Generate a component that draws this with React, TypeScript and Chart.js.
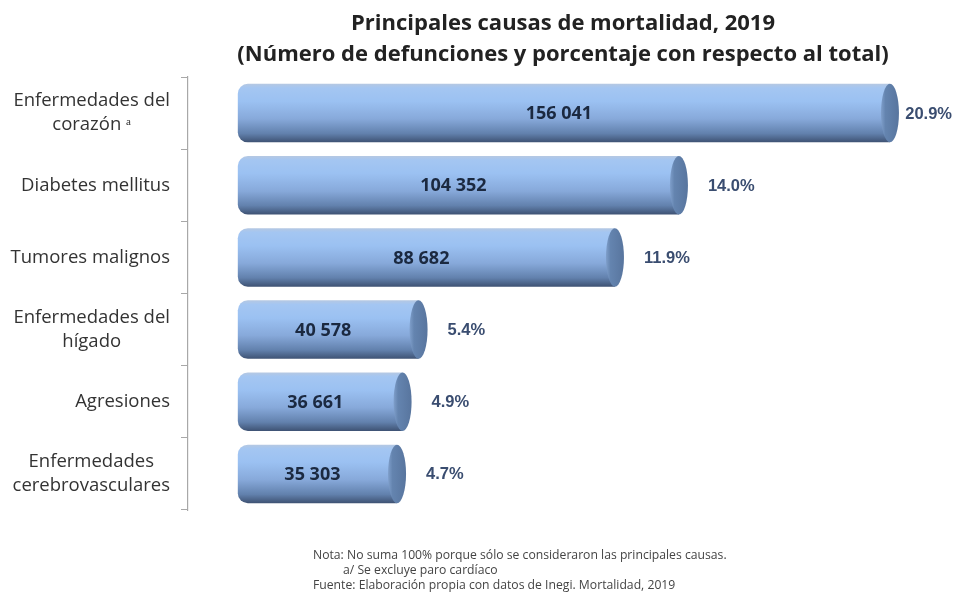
import React, { useEffect, useRef } from "react";
import { Chart, registerables } from "chart.js";

Chart.register(...registerables);

const CATEGORIES: string[][] = [
  ["Enfermedades del", "corazón ᵃ"],
  ["Diabetes mellitus"],
  ["Tumores malignos"],
  ["Enfermedades del", "hígado"],
  ["Agresiones"],
  ["Enfermedades", "cerebrovasculares"],
];
const DEATHS: number[] = [156041, 104352, 88682, 40578, 36661, 35303];
const PERCENTS: number[] = [20.9, 14.0, 11.9, 5.4, 4.9, 4.7];

const TITLE_LINES = [
  "Principales causas de mortalidad, 2019",
  "(Número de defunciones y porcentaje con respecto al total)",
];
const NOTES = [
  "Nota: No suma 100% porque sólo se consideraron las principales causas.",
  "a/ Se excluye paro cardíaco",
  "Fuente: Elaboración propia con datos de Inegi. Mortalidad, 2019",
];

const X_MIN = -15900;
const X_MAX = 158500;
const BAR_BASE = -3700;
const CAP_RX = 9;

const fmt = (v: number) => String(v).replace(/\B(?=(\d{3})+(?!\d))/g, " ");

const cylinderPlugin = {
  id: "cylinder",
  afterDatasetsDraw(chart: any) {
    const ctx = chart.ctx as CanvasRenderingContext2D;
    const meta = chart.getDatasetMeta(0);
    meta.data.forEach((bar: any, i: number) => {
      const { x, y, base, height } = bar.getProps(["x", "y", "base", "height"], true);
      const ry = height / 2;
      ctx.save();
      const g = ctx.createLinearGradient(x - CAP_RX, 0, x + CAP_RX, 0);
      g.addColorStop(0, "#7f9fcb");
      g.addColorStop(0.25, "#6484af");
      g.addColorStop(1, "#58759e");
      ctx.fillStyle = g;
      ctx.beginPath();
      ctx.ellipse(x, y, CAP_RX, ry, 0, 0, Math.PI * 2);
      ctx.fill();
      // value label
      ctx.fillStyle = "#1b2940";
      ctx.font = "bold 18px 'Open Sans'";
      ctx.textAlign = "center";
      ctx.textBaseline = "middle";
      ctx.fillText(fmt(DEATHS[i]), (base + x) / 2 - 5, y + 1);
      // percent label
      ctx.fillStyle = "#3a4d70";
      ctx.font = "bold 16.5px 'Liberation Sans'";
      ctx.textAlign = "left";
      const txt = PERCENTS[i].toFixed(1) + "%";
      const w = ctx.measureText(txt).width;
      let px = x + CAP_RX + 20;
      if (px + w > chart.width - 3) px = chart.width - 3 - w;
      ctx.fillText(txt, px, y + 1);
      ctx.restore();
    });
  },
  afterDraw(chart: any) {
    const ctx = chart.ctx as CanvasRenderingContext2D;
    const yScale = chart.scales.y;
    const right = chart.chartArea.left - 18;
    ctx.save();
    ctx.fillStyle = "#333333";
    ctx.font = "18.5px 'Open Sans'";
    ctx.textAlign = "center";
    ctx.textBaseline = "middle";
    const lh = 24;
    CATEGORIES.forEach((lines, i) => {
      const yc = yScale.getPixelForValue(i);
      const bw = Math.max(...lines.map((l) => ctx.measureText(l).width));
      const cx = right - bw / 2;
      const y0 = yc - ((lines.length - 1) * lh) / 2;
      lines.forEach((l, k) => ctx.fillText(l, cx, y0 + k * lh));
    });
    ctx.restore();
  },
};

export default function App() {
  const ref = useRef<HTMLCanvasElement | null>(null);
  useEffect(() => {
    document.body.style.margin = "0";
    const canvas = ref.current;
    if (!canvas) return;
    const n = CATEGORIES.length;
    const chart = new Chart(canvas, {
      type: "bar",
      data: {
        labels: CATEGORIES.map((l) => l.join(" ")),
        datasets: [
          {
            data: DEATHS,
            base: BAR_BASE,
            barPercentage: 0.81,
            categoryPercentage: 1.0,
            borderSkipped: false,
            borderWidth: 0,
            borderRadius: { topLeft: 10, bottomLeft: 10, topRight: 0, bottomRight: 0 },
            backgroundColor: (c: any) => {
              const ch = c.chart;
              const area = ch.chartArea;
              const ys = ch.scales.y;
              if (!area || !ys) return "#8fb3e3";
              const yc = ys.getPixelForValue(c.dataIndex);
              const half = ((area.bottom - area.top) / n) * 0.81 / 2;
              const g = ch.ctx.createLinearGradient(0, yc - half, 0, yc + half);
              g.addColorStop(0, "#b5c8e2");
              g.addColorStop(0.07, "#a4c6f2");
              g.addColorStop(0.3, "#9bc1f2");
              g.addColorStop(0.6, "#87a9da");
              g.addColorStop(0.85, "#6281ad");
              g.addColorStop(1, "#3e5273");
              return g;
            },
          } as any,
        ],
      },
      options: {
        indexAxis: "y",
        animation: false,
        responsive: true,
        maintainAspectRatio: false,
        layout: { padding: { top: 77, bottom: 87, left: 0, right: 55 } },
        plugins: {
          legend: { display: false },
          tooltip: { enabled: false },
          title: { display: false },
        },
        scales: {
          x: { display: false, min: X_MIN, max: X_MAX },
          y: {
            afterFit: (s: any) => {
              s.width = 188;
            },
            ticks: { display: false },
            grid: {
              display: true,
              drawOnChartArea: false,
              drawTicks: true,
              tickLength: 7,
              color: "#a8a8a8",
              offset: true,
            },
            border: { display: true, color: "#a8a8a8", width: 1.2 },
          },
        },
      },
      plugins: [cylinderPlugin],
    });
    return () => chart.destroy();
  }, []);

  return (
    <div style={{ position: "relative", width: 955, height: 597, background: "#fff", fontFamily: "'Open Sans', sans-serif" }}>
      <canvas ref={ref} style={{ position: "absolute", left: 0, top: 0 }} />
      <div
        style={{
          position: "absolute",
          left: 171,
          width: 784,
          top: 6,
          textAlign: "center",
          fontWeight: 700,
          fontSize: 22,
          lineHeight: "31px",
          color: "#222",
          pointerEvents: "none",
        }}
      >
        {TITLE_LINES.map((t) => (
          <div key={t}>{t}</div>
        ))}
      </div>
      <div
        style={{
          position: "absolute",
          left: 313,
          top: 547,
          fontSize: 12.2,
          lineHeight: "15px",
          color: "#444",
          pointerEvents: "none",
        }}
      >
        <div>{NOTES[0]}</div>
        <div style={{ paddingLeft: 30 }}>{NOTES[1]}</div>
        <div>{NOTES[2]}</div>
      </div>
    </div>
  );
}
